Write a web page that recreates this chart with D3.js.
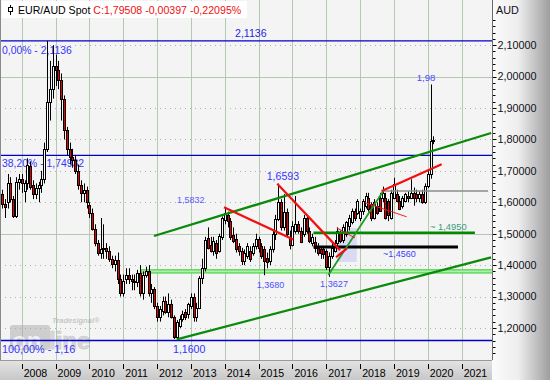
<!DOCTYPE html>
<html><head><meta charset="utf-8">
<script src="https://cdn.jsdelivr.net/npm/d3@7"></script>
<style>html,body{margin:0;padding:0;background:#fff;overflow:hidden}svg{display:block;font-family:"Liberation Sans",Arial,sans-serif}</style>
</head><body><svg id="c" width="550" height="380"></svg>
<script>
// Monthly EUR/AUD bars, Jul 2007 -> Apr 2020
const opens = [1.625,1.595,1.60,1.66,1.61,1.555,1.665,
1.675,1.635,1.66,1.715,1.655,1.625,1.645,1.655,1.675,1.77,1.92,1.96,
2.035,2.02,1.99,1.93,1.83,1.77,1.745,1.735,1.70,1.655,1.63,1.64,
1.59,1.567,1.515,1.47,1.44,1.45,1.455,1.445,1.42,1.405,1.415,1.355,
1.31,1.355,1.37,1.355,1.35,1.345,1.375,1.31,1.37,1.38,1.31,1.325,
1.27,1.234,1.255,1.287,1.25,1.276,1.234,1.17,1.205,1.229,1.25,1.245,
1.27,1.30,1.235,1.265,1.36,1.39,1.485,1.465,1.446,1.47,1.446,1.49,
1.545,1.56,1.54,1.495,1.483,1.461,1.446,1.414,1.43,1.446,1.44,1.461,
1.483,1.461,1.45,1.424,1.414,1.45,1.50,1.546,1.60,1.52,1.57,1.49,
1.465,1.51,1.53,1.51,1.50,1.55,1.51,1.47,1.475,1.455,1.45,1.45,
1.445,1.393,1.43,1.446,1.47,1.504,1.48,1.50,1.525,1.536,1.573,1.567,
1.55,1.573,1.589,1.615,1.594,1.551,1.589,1.615,1.615,1.615,1.604,1.551,
1.615,1.626,1.604,1.589,1.604,1.62,1.615,1.631,1.626,1.615,1.626,1.60,
1.652,1.689,1.799];
const highs = [1.64,1.61,1.69,1.68,1.62,1.68,1.69,
1.69,1.67,1.74,1.73,1.67,1.66,1.665,1.70,1.79,2.1136,2.05,2.10,
2.07,2.05,2.01,1.94,1.84,1.79,1.77,1.75,1.72,1.67,1.66,1.65,
1.60,1.58,1.53,1.48,1.55,1.53,1.47,1.46,1.43,1.43,1.44,1.37,
1.37,1.39,1.39,1.37,1.37,1.385,1.40,1.38,1.395,1.40,1.34,1.33,
1.28,1.27,1.30,1.30,1.31,1.29,1.24,1.225,1.24,1.255,1.26,1.28,
1.31,1.31,1.28,1.365,1.42,1.49,1.52,1.49,1.49,1.48,1.50,1.555,
1.5832,1.57,1.55,1.52,1.50,1.47,1.455,1.45,1.47,1.46,1.47,1.50,
1.49,1.47,1.46,1.44,1.46,1.51,1.56,1.6593,1.61,1.626,1.58,1.51,
1.54,1.62,1.54,1.52,1.56,1.56,1.52,1.50,1.49,1.47,1.46,1.46,
1.45,1.44,1.47,1.48,1.52,1.51,1.53,1.54,1.56,1.58,1.58,1.61,
1.58,1.61,1.63,1.63,1.60,1.61,1.60,1.63,1.65,1.63,1.61,1.64,
1.678,1.64,1.62,1.62,1.63,1.635,1.673,1.647,1.64,1.635,1.64,1.66,
1.70,1.975,1.81];
const lows = [1.58,1.55,1.58,1.60,1.55,1.55,1.64,
1.63,1.60,1.64,1.64,1.61,1.61,1.60,1.63,1.66,1.76,1.86,1.93,
1.97,1.96,1.86,1.80,1.75,1.72,1.71,1.69,1.64,1.60,1.60,1.58,
1.55,1.51,1.46,1.43,1.42,1.42,1.42,1.41,1.39,1.38,1.34,1.30,
1.30,1.34,1.34,1.32,1.32,1.33,1.30,1.29,1.36,1.30,1.28,1.26,
1.22,1.22,1.24,1.245,1.234,1.23,1.165,1.16,1.20,1.22,1.225,1.23,
1.26,1.22,1.22,1.26,1.34,1.38,1.45,1.44,1.43,1.42,1.44,1.48,
1.53,1.52,1.48,1.47,1.44,1.43,1.40,1.40,1.42,1.41,1.43,1.45,
1.44,1.42,1.368,1.39,1.40,1.44,1.48,1.54,1.51,1.51,1.49,1.45,
1.46,1.50,1.50,1.47,1.49,1.50,1.47,1.46,1.44,1.43,1.42,1.42,
1.385,1.3627,1.42,1.44,1.46,1.47,1.47,1.49,1.51,1.53,1.54,1.56,
1.54,1.56,1.58,1.57,1.54,1.545,1.56,1.57,1.60,1.545,1.54,1.545,
1.61,1.60,1.575,1.58,1.60,1.60,1.61,1.589,1.60,1.60,1.595,1.595,
1.645,1.675,1.785];
const closes = [1.595,1.585,1.66,1.61,1.555,1.665,1.675,
1.66,1.66,1.72,1.65,1.625,1.645,1.655,1.675,1.77,1.92,1.96,2.035,
2.02,1.99,1.93,1.83,1.77,1.745,1.735,1.70,1.655,1.63,1.64,1.60,
1.567,1.515,1.47,1.44,1.45,1.455,1.445,1.42,1.405,1.415,1.355,1.31,
1.35,1.37,1.355,1.35,1.345,1.375,1.31,1.37,1.38,1.31,1.325,1.27,
1.234,1.26,1.287,1.25,1.276,1.234,1.17,1.22,1.229,1.245,1.234,1.276,
1.30,1.235,1.265,1.36,1.39,1.48,1.455,1.446,1.478,1.44,1.493,1.55,
1.565,1.54,1.49,1.478,1.45,1.446,1.414,1.44,1.461,1.42,1.461,1.483,
1.456,1.43,1.414,1.409,1.45,1.50,1.546,1.60,1.52,1.57,1.50,1.465,
1.525,1.53,1.51,1.475,1.55,1.51,1.478,1.49,1.455,1.44,1.44,1.435,
1.395,1.43,1.456,1.461,1.509,1.478,1.52,1.536,1.551,1.573,1.551,1.604,
1.573,1.604,1.62,1.578,1.551,1.60,1.567,1.573,1.631,1.551,1.56,1.631,
1.657,1.604,1.578,1.615,1.626,1.615,1.631,1.615,1.615,1.626,1.60,1.652,
1.689,1.795,1.79508];

const priceTicks = [1.2,1.3,1.4,1.5,1.6,1.7,1.8,1.9,2.0,2.1];
const majorGrid = [1.5,2.0];
const yearTicks = [2008,2009,2010,2011,2012,2013,2014,2015,2016,2017,2018,2019,2020,2021];
const fibLevels = [2.1136,1.74932,1.16];

// annotations [yearFrom, valueFrom, yearTo, valueTo]
const greenChannel = [[2011.909,1.4927,2021.87,1.8205],[2012.58,1.1639,2021.87,1.4249]];
const greenRise = [[2017.059,1.3685,2018.684,1.6359]];
const supportGreen = [[2016.62,1.503,2021.39,1.503]];
const supportBlack = [[2016.62,1.458,2020.89,1.458]];
const levelGray = [[2018.63,1.636,2021.78,1.636]];
const redThick = [[2013.977,1.584,2016.025,1.4813],[2015.552,1.6588,2017.404,1.4477],[2017.286,1.425,2017.611,1.453],[2018.636,1.636,2020.409,1.721]];
const redThin = [[2018.142,1.5988,2019.375,1.5538],[2017.307,1.5185,2017.847,1.4867]];
const limeBand = [2011.54,1.375,2022,1.385];
const shadeBox = [2017.31,1.41,2017.90,1.518];

const notes = [
 {t:"2,1136",yr:2014.302,v:2.126,fs:10.6,c:"#2727e0"},
 {t:"0,00% - 2,1136",yr:2007.418,v:2.0719,fs:10.4,c:"#3535ff"},
 {t:"38,20% - 1,74932",yr:2007.418,v:1.7123,fs:10.4,c:"#3535ff"},
 {t:"100,00% - 1,16",yr:2007.418,v:1.1203,fs:10.8,c:"#3535ff"},
 {t:"1,1600",yr:2012.47,v:1.1187,fs:10.6,c:"#3535ff"},
 {t:"1,5832",yr:2012.588,v:1.5977,fs:9,c:"#5c5cff"},
 {t:"1,6593",yr:2015.239,v:1.6709,fs:10.6,c:"#3535ff"},
 {t:"1,3680",yr:2014.943,v:1.3256,fs:9,c:"#5050ff"},
 {t:"1,3627",yr:2016.813,v:1.3303,fs:9.2,c:"#5050ff"},
 {t:"~1,4560",yr:2018.675,v:1.4258,fs:9,c:"#4040ff"},
 {t:"~ 1,4950",yr:2020.064,v:1.5118,fs:9.4,c:"#3a9a78"},
 {t:"1,98",yr:2019.67,v:1.986,fs:9.6,c:"#4a4aff"}
];

const W=550,H=380,PW=492,PH=360;
const svg=d3.select("#c");
const x=d3.scaleTime().domain([new Date(2008,0,1),new Date(2021,0,1)]).range([21.7,461.7]);
const y=d3.scaleLinear().domain([1.098,2.2438]).range([PH,0]);
function yd(yr){const a=Math.floor(yr);const s=new Date(a,0,1),e=new Date(a+1,0,1);return new Date(+s+(yr-a)*(e-s));}
const X=yr=>x(yd(yr));
const fmt=v=>d3.format(".5f")(v).replace(".",",");

const defs=svg.append("defs");
const gr=defs.append("linearGradient").attr("id","gr").attr("x1",0).attr("x2",1).attr("y1",0).attr("y2",0);
gr.append("stop").attr("offset","0%").attr("stop-color","#fbfbfb");
gr.append("stop").attr("offset","45%").attr("stop-color","#eeeeee");
gr.append("stop").attr("offset","100%").attr("stop-color","#9e9e9e");
const gb=defs.append("linearGradient").attr("id","gb").attr("x1",0).attr("x2",0).attr("y1",0).attr("y2",1);
gb.append("stop").attr("offset","0%").attr("stop-color","#e4e4e4");
gb.append("stop").attr("offset","100%").attr("stop-color","#c8c8c8");
defs.append("clipPath").attr("id","clip").append("rect").attr("x",0).attr("y",0).attr("width",PW).attr("height",PH);

svg.append("rect").attr("width",W).attr("height",H).attr("fill","#f4f4f4");
// grid
const grid=svg.append("g");
grid.selectAll("line.vy").data(yearTicks).join("line")
 .attr("x1",d=>Math.round(X(d))+0.5).attr("x2",d=>Math.round(X(d))+0.5).attr("y1",0).attr("y2",PH)
 .attr("stroke","#b5c8b1").attr("stroke-width",1);
grid.selectAll("line.hy").data(priceTicks).join("line")
 .attr("x1",0).attr("x2",PW).attr("y1",d=>Math.round(y(d))+0.5).attr("y2",d=>Math.round(y(d))+0.5)
 .attr("stroke",d=>majorGrid.includes(d)?"#b5c8b1":"#b0b0b0")
 .attr("stroke-dasharray",d=>majorGrid.includes(d)?null:"1,4");

// watermark
const wm=svg.append("g").attr("opacity",0.5);
wm.append("rect").attr("x",10).attr("y",325).attr("width",40).attr("height",25).attr("rx",3).attr("fill","#a9a9a9");
wm.append("text").attr("x",12).attr("y",349).attr("font-size",24).attr("font-weight","bold").attr("fill","#f0f0f0").text("on");
wm.append("text").attr("x",49).attr("y",349).attr("font-size",24).attr("font-weight","bold").attr("fill","#bdbdbd").attr("stroke","#999").attr("stroke-width",0.6).text("line");
wm.append("text").attr("x",52).attr("y",323).attr("font-size",7.5).attr("font-style","italic").attr("font-weight","bold").attr("fill","#9a9a9a").text("Tradesignal®");

const plot=svg.append("g").attr("clip-path","url(#clip)");
// fib lines
plot.selectAll("line.fib").data(fibLevels).join("line")
 .attr("x1",0).attr("x2",PW).attr("y1",d=>y(d)).attr("y2",d=>y(d))
 .attr("stroke","#0000c8").attr("stroke-width",1.3);
// notes (under candles)
plot.selectAll("text.note").data(notes).join("text")
 .attr("x",d=>X(d.yr)).attr("y",d=>y(d.v)).attr("font-size",d=>d.fs).attr("fill",d=>d.c).text(d=>d.t);
// lime band
plot.append("rect").attr("x",X(limeBand[0])).attr("width",X(limeBand[2])-X(limeBand[0]))
 .attr("y",y(limeBand[3])).attr("height",y(limeBand[1])-y(limeBand[3]))
 .attr("fill","#aef0a8").attr("stroke","#3fcf3f").attr("stroke-width",1.1);
// shaded box
plot.append("rect").attr("x",X(shadeBox[0])).attr("width",X(shadeBox[2])-X(shadeBox[0]))
 .attr("y",y(shadeBox[3])).attr("height",y(shadeBox[1])-y(shadeBox[3])).attr("fill","#c8c8f0").attr("opacity",0.6);

// candles
const months=d3.timeMonth.range(new Date(2007,6,1),new Date(2020,4,1));
const bars=months.map((m,i)=>({date:m,o:opens[i],h:highs[i],l:lows[i],c:closes[i]}));
const bx=d=>Math.round(x(d3.timeMonth.offset(d.date,-1)));
const cg=plot.append("g");
cg.selectAll("line").data(bars).join("line")
 .attr("x1",d=>bx(d)+0.5).attr("x2",d=>bx(d)+0.5).attr("y1",d=>y(d.h)).attr("y2",d=>y(d.l))
 .attr("stroke","#000").attr("stroke-width",1);
cg.selectAll("rect").data(bars).join("rect")
 .attr("x",d=>bx(d)-0.5).attr("width",2)
 .attr("y",d=>Math.round(y(Math.max(d.o,d.c)))+0.5)
 .attr("height",d=>Math.max(1,Math.round(y(Math.min(d.o,d.c)))-Math.round(y(Math.max(d.o,d.c)))))
 .attr("fill",d=>d.c<d.o?"#e80000":"#ffffff").attr("stroke","#000").attr("stroke-width",1);

// trend lines
function seg(data,color,w){
 plot.append("g").selectAll("line").data(data).join("line")
  .attr("x1",d=>X(d[0])).attr("y1",d=>y(d[1])).attr("x2",d=>X(d[2])).attr("y2",d=>y(d[3]))
  .attr("stroke",color).attr("stroke-width",w);
}
seg(supportGreen,"#008a00",2.4);
seg(supportBlack,"#000000",3);
seg(levelGray,"#8c8c8c",1.5);
seg(greenChannel,"#0a8a0a",2.3);
seg(greenRise,"#229a22",1.8);
seg(redThick,"#f01010",2.2);
seg(redThin,"#f02020",1);

// frame
svg.append("line").attr("x1",0.5).attr("x2",0.5).attr("y1",0).attr("y2",PH).attr("stroke","#8a8a8a");

// bottom axis strip
svg.append("rect").attr("x",0).attr("y",PH).attr("width",PW).attr("height",H-PH).attr("fill","url(#gb)");
svg.append("line").attr("x1",0).attr("x2",PW).attr("y1",PH+0.5).attr("y2",PH+0.5).attr("stroke","#9a9a9a");
const xa=svg.append("g");
xa.selectAll("line").data(yearTicks).join("line")
 .attr("x1",d=>Math.round(X(d))+0.5).attr("x2",d=>Math.round(X(d))+0.5).attr("y1",364).attr("y2",369).attr("stroke","#000");
xa.selectAll("text").data(yearTicks).join("text")
 .attr("x",d=>X(d)+2).attr("y",377).attr("font-size",10.6).attr("fill","#000").text(d=>d);

// right axis panel
svg.append("rect").attr("x",PW).attr("y",0).attr("width",W-PW).attr("height",H).attr("fill","url(#gr)");
svg.append("line").attr("x1",PW+0.5).attr("x2",PW+0.5).attr("y1",0).attr("y2",PH).attr("stroke","#6a6a6a");
const minor=d3.range(1.10,2.1901,0.02).filter(v=>Math.abs(v*10-Math.round(v*10))>0.01);
const ya=svg.append("g");
ya.selectAll("line.mn").data(minor).join("line")
 .attr("x1",PW+1).attr("x2",PW+3.5).attr("y1",d=>Math.round(y(d))+0.5).attr("y2",d=>Math.round(y(d))+0.5).attr("stroke","#000");
ya.selectAll("line.mj").data(priceTicks).join("line")
 .attr("x1",PW+1).attr("x2",PW+4.5).attr("y1",d=>Math.round(y(d))+0.5).attr("y2",d=>Math.round(y(d))+0.5).attr("stroke","#000");
ya.selectAll("text").data(priceTicks).join("text")
 .attr("x",PW+5.5).attr("y",d=>y(d)).attr("dy","0.36em").attr("font-size",10.8).attr("fill","#101018").text(d=>fmt(d));
svg.append("text").attr("x",PW+4).attr("y",13.5).attr("font-size",10.8).attr("fill","#101018").text("AUD");

// title
svg.append("rect").attr("x",2).attr("y",1).attr("width",245).attr("height",17).attr("fill","#ffffff");
svg.append("line").attr("x1",10.5).attr("x2",10.5).attr("y1",5).attr("y2",15).attr("stroke","#000");
svg.append("rect").attr("x",8.5).attr("y",7.5).attr("width",4).attr("height",4).attr("fill","#fff").attr("stroke","#000");
const tt=svg.append("text").attr("x",18).attr("y",14).attr("font-size",10.6);
tt.append("tspan").attr("fill","#000").text("EUR/AUD Spot ");
tt.append("tspan").attr("fill","#ee1010").text("C:1,79508 -0,00397 -0,22095%");
</script></body></html>
